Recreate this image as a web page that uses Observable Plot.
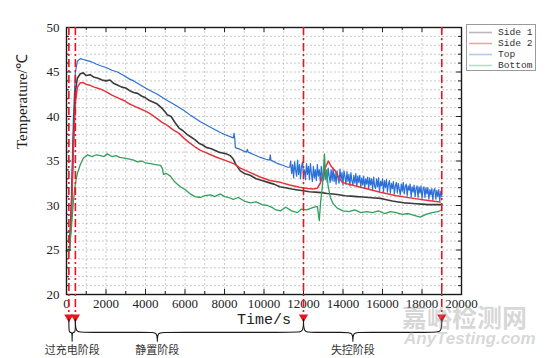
<!DOCTYPE html>
<html><head><meta charset="utf-8">
<script src="https://cdn.jsdelivr.net/npm/d3@7"></script>
<script src="https://cdn.jsdelivr.net/npm/@observablehq/plot@0.6"></script>
<style>
body{margin:0;background:#fff;}
#wrap{position:relative;width:554px;height:358px;overflow:hidden;background:#fff;}
#legend{position:absolute;left:466px;top:24px;width:70px;height:47px;border:1px solid #9a9a9a;background:#fff;box-sizing:border-box;padding-top:2px;font-family:"Liberation Mono",monospace;font-size:9.6px;color:#333;white-space:nowrap;overflow:hidden;}
#legend .row{display:flex;align-items:center;height:11px;white-space:nowrap;}
#legend .row svg{flex:none;}
#legend .row span{margin-left:5px;line-height:11px;white-space:nowrap;}
.wm{position:absolute;color:rgba(150,150,150,0.38);white-space:nowrap;line-height:1;}
</style></head><body><div id="wrap"></div>
<script>
// ---- series: Side 1 (black) ----
const s1T = [0,150,250,350,450,550,700,850,1000,1200,1400,1600,1800,2000,2200,2400,2600,2800,3000,3200,3400,3600,3800,4000,4200,4400,4600,4800,5000,5100,5300,5500,5700,5900,6100,6300,6500,6700,6900,7100,7300,7500,7700,7900,8100,8300,8450,8550,8700,8800,9000,9300,9600,9900,10200,10500,10800,11100,11400,11700,12000,12300,12600,12900,13200,13500,13800,14100,14400,14700,15000,15300,15600,15900,16200,16500,16800,17100,17400,17700,18000,18300,18600,18900,19000];
const s1V = [24.9,25.0,29.5,37.5,42.8,44.3,44.8,44.9,44.6,44.7,44.4,44.3,44.1,44.0,44.1,43.7,43.5,43.3,43.2,42.9,42.7,42.6,42.3,42.1,41.8,41.6,41.4,41.0,40.5,40.2,40.0,39.3,38.7,38.4,38.0,37.7,37.4,37.0,36.8,36.5,36.4,36.2,36.0,35.9,35.8,35.6,35.2,34.7,34.2,33.9,33.6,33.4,33.0,32.8,32.6,32.4,32.1,32.0,31.85,31.75,31.65,31.55,31.5,31.45,31.35,31.3,31.2,31.1,31.05,31.0,30.95,30.9,30.85,30.8,30.65,30.5,30.4,30.3,30.25,30.2,30.15,30.1,30.1,30.1,30.1];
// ---- Side 2 (red) ----
const s2T = [0,150,250,350,450,550,700,850,1000,1200,1400,1700,2000,2300,2600,2900,3200,3400,3700,4000,4250,4500,4800,5100,5400,5700,5930,6200,6500,6780,7000,7300,7630,8000,8470,8800,9310,9800,10300,10830,11300,11800,12200,12500,12700,12850,13000,13150,13260,13400,13600,13800,13960,14200,15000,15890,16700,17560,18300,18920];
const s2V = [24.9,25.0,29.0,36.5,41.5,43.3,43.8,43.8,43.6,43.5,43.3,43.1,42.8,42.4,42.1,41.8,41.4,41.2,40.9,40.6,40.3,39.9,39.4,39.0,38.5,38.1,37.6,37.1,36.6,36.2,36.0,35.7,35.4,35.1,34.7,34.2,33.7,33.2,32.8,32.6,32.3,32.05,31.9,31.85,31.95,32.5,33.6,34.5,35.0,34.4,33.9,33.1,32.6,32.45,32.0,31.5,31.1,30.8,30.55,30.4];
// ---- Top (blue): smooth decay, then a noisy band after ~11300 s ----
const topT = [0,150,250,350,450,550,700,850,1000,1200,1500,1720,2000,2300,2580,2900,3200,3400,3700,4000,4250,4600,5100,5500,5930,6300,6780,7290,7790,8100,8450,8480,8520,8550,8800,9100,9160,9200,9500,9820,10100,10280,10320,10350,10700,10980,11200,
11300,11350,11400,11450,11500,11550,11600,11650,11700,11750,
11800,11850,11900,11950,12000,12050,12100,12150,12200,12250,
12300,12350,12400,12450,12500,12550,12600,12650,12700,12750,
12800,12850,12900,12950,13000,13050,13100,13150,13200,13250,
13300,13350,13400,13450,13500,13550,13600,13650,13700,13750,
13800,13850,13900,13950,14000,14050,14100,14150,14200,14250,
14300,14350,14400,14450,14500,14550,14600,14650,14700,14750,
14800,14850,14900,14950,15000,15050,15100,15150,15200,15250,
15300,15350,15400,15450,15500,15550,15600,15650,15700,15750,
15800,15850,15900,15950,16000,16050,16100,16150,16200,16250,
16300,16350,16400,16450,16500,16550,16600,16650,16700,16750,
16800,16850,16900,16950,17000,17050,17100,17150,17200,17250,
17300,17350,17400,17450,17500,17550,17600,17650,17700,17750,
17800,17850,17900,17950,18000,18050,18100,18150,18200,18250,
18300,18350,18400,18450,18500,18550,18600,18650,18700,18750,
18800,18850,18900,18950,19000];
const topV = [24.9,25.0,31.0,40.0,45.0,46.2,46.5,46.4,46.3,46.2,45.9,45.7,45.5,45.2,45.0,44.6,44.2,44.0,43.6,43.2,42.9,42.5,41.8,41.3,40.7,40.1,39.4,38.8,38.2,37.9,37.6,38.1,37.5,36.5,36.3,36.0,36.3,36.0,35.7,35.4,35.2,35.1,35.7,35.1,34.7,34.5,34.3,
34.3,35.0,33.6,34.6,33.1,34.9,34.0,33.3,35.1,33.5,
34.6,33.0,34.4,34.9,33.4,34.0,32.9,34.7,33.5,34.4,
32.9,34.7,33.6,32.7,34.4,33.1,34.0,32.8,34.6,33.3,
34.0,32.7,34.4,33.2,32.8,34.4,32.9,33.8,32.6,34.2,
33.3,32.6,34.0,32.8,34.2,32.7,33.6,32.4,33.9,33.0,
32.5,34.1,32.9,33.7,32.3,33.9,33.2,32.4,33.8,32.7,
33.5,32.2,33.7,32.8,32.3,33.4,32.5,33.6,32.1,33.3,
32.6,33.4,32.0,33.1,32.3,33.3,31.9,33.0,32.4,33.2,
31.9,33.1,32.3,33.0,31.8,33.2,32.2,31.9,33.0,32.1,
33.1,31.6,32.7,32.2,33.0,31.5,32.8,32.0,32.9,31.5,
32.4,32.8,31.4,32.5,31.9,32.7,31.3,32.2,32.6,31.4,
32.5,31.8,31.2,32.4,31.6,32.6,31.3,32.1,32.4,31.1,
32.2,31.7,32.4,31.0,32.1,31.5,32.3,31.0,31.9,32.2,
30.9,32.1,31.4,32.2,30.8,31.8,32.1,30.9,32.0,31.3,
32.0,30.7,31.8,31.2,31.9,30.6,31.7,31.9,30.7,31.7,
31.0,31.8,30.5,31.6,31.0];
// ---- Bottom (green) ----
const botT = [0,150,250,350,450,550,700,850,1060,1300,1500,1720,1900,2070,2300,2500,2700,3000,3200,3400,3600,3800,4000,4250,4500,4760,4850,4910,5050,5260,5500,5770,6000,6270,6500,6780,7000,7300,7500,7790,8000,8200,8450,8700,9000,9310,9600,9900,10170,10400,10600,10830,11100,11400,11690,11900,12150,12500,12700,12800,12870,12950,13060,13120,13180,13240,13360,13500,13710,14000,14300,14600,14900,15200,15500,15800,16100,16400,16700,17000,17300,17600,17910,18200,18500,18800,19000];
const botV = [24.9,25.0,27.5,30.5,32.5,33.6,34.6,35.3,35.7,35.5,35.7,35.6,35.5,35.8,35.5,35.6,35.4,35.3,35.2,35.1,34.9,35.0,34.8,34.7,34.6,34.5,34.2,33.5,33.6,33.3,32.6,32.1,31.8,31.3,31.0,30.9,31.1,31.2,31.0,31.3,31.0,30.9,30.7,30.9,30.5,30.3,30.4,30.1,30.0,29.8,29.5,29.4,29.8,29.4,29.2,29.6,29.5,29.8,29.9,28.3,30.5,32.0,35.8,33.0,34.0,32.3,30.9,30.2,29.7,29.4,29.3,29.5,29.2,29.3,29.2,29.4,29.1,29.3,29.2,29.0,29.1,28.9,28.7,29.0,29.2,29.3,29.5];

const seriesNames = ["Side 1","Side 2","Top","Bottom"];
const seriesColors = ["#3b3b3b","#e8333c","#2b6fd9","#31a05b"];
const legendColors = ["#b8b8b8","#f3a3a6","#b4caef","#b7dcc4"];

// ---- axis ticks ----
const xTickLabels = [0,2000,4000,6000,8000,10000,12000,14000,16000,18000,20000];
const xMinor = [1000,3000,5000,7000,9000,11000,13000,15000,17000,19000];
const yTickLabels = [20,25,30,35,40,45,50];
const yMinor = [21,22,23,24,26,27,28,29,31,32,33,34,36,37,38,39,41,42,43,44,46,47,48,49];
const xGrid = [1000,2000,3000,4000,5000,6000,7000,8000,9000,10000,11000,12000,13000,14000,15000,16000,17000,18000,19000];
const yGrid = yMinor.concat([25,30,35,40,45]);

// ---- stages ----
const stageNames = ["过充电阶段","静置阶段","失控阶段"];
const stageStart = [120, 450, 12000];
const stageEnd = [450, 12000, 19000];
const stageLabelAt = [285, 4600, 14500];
const stageMarks = [120, 450, 12000, 19000];

const mk = (T, V) => T.map((t, i) => ({t, v: V[i]}));
const side1Data = mk(s1T, s1V), side2Data = mk(s2T, s2V), topData = mk(topT, topV), bottomData = mk(botT, botV);

// brace geometry (below the axis, in the y scale's units)
const yTop = 17.2, yBar = 15.75, yCusp = 14.75, yLabel = 13.7, yTri = 17.46;
const braces = [];
stageNames.forEach((name, i) => {
  const a = stageStart[i], b = stageEnd[i], m = stageLabelAt[i];
  const r = Math.min(380, (b - a) / 4);
  const pts = [[a,yTop],[a,yBar],[a+r,yBar],[m-r,yBar],[m,yBar],[m,yCusp],[m,yCusp],[m,yCusp],[m,yBar],[m+r,yBar],[b-r,yBar],[b,yBar],[b,yTop]];
  pts.forEach(([t, v]) => braces.push({stage: name, t, v}));
});
const stages = stageNames.map((name, i) => ({name, at: stageLabelAt[i]}));

const red = "#e8141e";
const W = 461 - 66, H = 294 - 27;

const chart = Plot.plot({
  width: 554, height: 358,
  marginLeft: 66, marginRight: 93, marginTop: 27, marginBottom: 64,
  x: {domain: [0, 20000]},
  y: {domain: [20, 50]},
  style: {fontFamily: "Liberation Serif, serif", fontSize: "13px", color: "#222", background: "transparent", overflow: "visible"},
  marks: [
    Plot.ruleX(xGrid, {x: d => d, stroke: "#bdbdbd", strokeWidth: 0.8, strokeDasharray: "2,2"}),
    Plot.ruleY(yGrid, {y: d => d, stroke: "#bdbdbd", strokeWidth: 0.8, strokeDasharray: "2,2"}),
    Plot.line(topData, {x: "t", y: "v", stroke: seriesColors[2], strokeWidth: 1.2}),
    Plot.line(side1Data, {x: "t", y: "v", stroke: seriesColors[0], strokeWidth: 1.6}),
    Plot.line(side2Data, {x: "t", y: "v", stroke: seriesColors[1], strokeWidth: 1.5}),
    Plot.line(bottomData, {x: "t", y: "v", stroke: seriesColors[3], strokeWidth: 1.3}),
    Plot.tickX(xTickLabels, {x: d => d, insetTop: H - 5, stroke: "#222"}),
    Plot.tickX(xMinor, {x: d => d, insetTop: H - 3, stroke: "#222"}),
    Plot.tickX(xTickLabels, {x: d => d, insetBottom: H - 5, stroke: "#222"}),
    Plot.tickX(xMinor, {x: d => d, insetBottom: H - 3, stroke: "#222"}),
    Plot.tickY(yTickLabels, {y: d => d, insetRight: W - 5, stroke: "#222"}),
    Plot.tickY(yMinor, {y: d => d, insetRight: W - 3, stroke: "#222"}),
    Plot.tickY(yTickLabels, {y: d => d, insetLeft: W - 5, stroke: "#222"}),
    Plot.tickY(yMinor, {y: d => d, insetLeft: W - 3, stroke: "#222"}),
    Plot.frame({stroke: "#1a1a1a", strokeWidth: 1.4}),
    Plot.axisX({ticks: xTickLabels, tickSize: 0, tickPadding: 4, tickFormat: d => String(d), label: null}),
    Plot.axisY({ticks: yTickLabels, tickSize: 0, tickPadding: 7, label: null}),
    Plot.text(["Time/s"], {frameAnchor: "bottom", dy: 29, fontFamily: "Liberation Mono, monospace", fontSize: 15, fill: "#222"}),
    Plot.text(["Temperature/℃"], {frameAnchor: "left", rotate: -90, dx: -44, dy: -12, fontFamily: "Liberation Serif, serif", fontSize: 15, fill: "#222"}),
    Plot.ruleX(stageMarks, {x: d => d, y1: 50, y2: 17.7, stroke: red, strokeWidth: 1.6, strokeDasharray: "8,3,2,3"}),
    Plot.dot(stageMarks, {x: d => d, y: yTri, symbol: "triangle", rotate: 180, r: 3.4, fill: red, stroke: "none"}),
    Plot.line(braces, {x: "t", y: "v", z: "stage", curve: "basis", stroke: "#1a1a1a", strokeWidth: 1.1}),
    Plot.text(stages, {x: "at", y: yLabel, text: "name", fontFamily: "Noto Sans CJK SC, sans-serif", fontSize: 11, fill: "#333"})
  ]
});

const wrap = document.getElementById("wrap");
wrap.appendChild(chart);

const lg = document.createElement("div");
lg.id = "legend";
seriesNames.forEach((n, i) => {
  const row = document.createElement("div");
  row.className = "row";
  row.innerHTML = `<svg width="25" height="11" style="margin-left:1px"><line x1="1" x2="24" y1="5.5" y2="5.5" stroke="${legendColors[i]}" stroke-width="1.6"/></svg><span>${n}</span>`;
  lg.appendChild(row);
});
wrap.appendChild(lg);

const wm1 = document.createElement("div");
wm1.className = "wm";
wm1.style.cssText = "left:402px;top:304px;font-family:'Noto Sans CJK SC';font-weight:bold;font-size:25px;";
wm1.textContent = "嘉峪检测网";
const wm2 = document.createElement("div");
wm2.className = "wm";
wm2.style.cssText = "left:404px;top:330px;font-family:'Liberation Sans';font-weight:bold;font-style:italic;font-size:17px;";
wm2.textContent = "AnyTesting.com";
wrap.appendChild(wm1);
wrap.appendChild(wm2);
</script></body></html>
